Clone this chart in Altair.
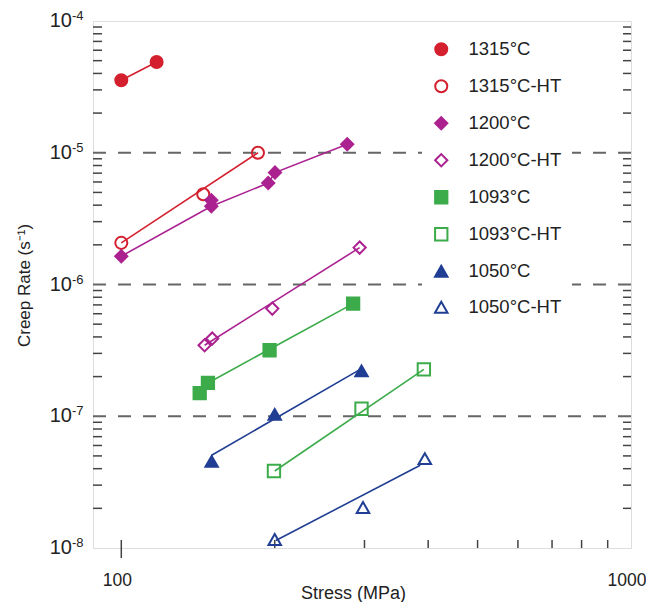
import altair as alt
import pandas as pd

# ---------------- data ----------------
SERIES = ['1315°C', '1315°C-HT', '1200°C', '1200°C-HT',
          '1093°C', '1093°C-HT', '1050°C', '1050°C-HT']
COLORS = ['#d4202e', '#d4202e', '#ab2190', '#ab2190',
          '#3cab4a', '#3cab4a', '#203e93', '#203e93']
FILLS = ['#d4202e', 'transparent', '#ab2190', 'transparent',
         '#3cab4a', 'transparent', '#203e93', 'transparent']
SHAPES = ['circle', 'circle', 'diamond', 'diamond',
          'square', 'square', 'triangle-up', 'triangle-up']
SIZES = [144, 156, 182, 280, 106, 132, 150, 132]

s1315_x = [100, 117.3]
s1315_y = [3.55e-5, 4.89e-5]
s1315ht_x = [100, 144.8, 185.4]
s1315ht_y = [2.07e-6, 4.84e-6, 1.0e-5]
s1200_x = [100, 150.2, 150.2, 194.2, 200.2, 277.5]
s1200_y = [1.64e-6, 3.93e-6, 4.36e-6, 5.89e-6, 7.07e-6, 1.16e-5]
s1200ht_x = [145.7, 150.8, 197.8, 293.5]
s1200ht_y = [3.46e-7, 3.89e-7, 6.56e-7, 1.905e-6]
s1093_x = [142.5, 147.9, 195.4, 285]
s1093_y = [1.50e-7, 1.79e-7, 3.17e-7, 7.16e-7]
s1093ht_x = [199.3, 296, 392.3]
s1093ht_y = [3.84e-8, 1.14e-7, 2.27e-7]
s1050_x = [150.4, 200, 296]
s1050_y = [4.55e-8, 1.035e-7, 2.21e-7]
s1050ht_x = [200, 298, 394]
s1050ht_y = [1.16e-8, 2.03e-8, 4.77e-8]

# fitted trend lines (vertices)
f1315_x = [100, 117.3]
f1315_y = [3.55e-5, 4.89e-5]
f1315ht_x = [100, 185.4]
f1315ht_y = [2.07e-6, 1.0e-5]
f1200_x = [100, 150.2, 194.2, 200.2, 277.5]
f1200_y = [1.64e-6, 3.93e-6, 5.89e-6, 7.07e-6, 1.16e-5]
f1200ht_x = [145.7, 293.5]
f1200ht_y = [3.46e-7, 1.905e-6]
f1093_x = [147.9, 285]
f1093_y = [1.79e-7, 7.16e-7]
f1093ht_x = [200, 392.3]
f1093ht_y = [3.84e-8, 2.27e-7]
f1050_x = [150.4, 296]
f1050_y = [5.06e-8, 2.30e-7]
f1050ht_x = [201, 386]
f1050ht_y = [1.14e-8, 4.25e-8]

GRID_Y = [1e-5, 1e-6, 1e-7]
Y_LABEL_VALUES = [1e-4, 1e-5, 1e-6, 1e-7, 1e-8]
Y_LABEL_BASE = ['10', '10', '10', '10', '10']
Y_LABEL_EXP = ['-4', '-5', '-6', '-7', '-8']
X_LABEL_VALUES = [100, 1000]
MINOR_MULT = [2, 3, 4, 5, 6, 7, 8, 9]
DECADES = [1e-8, 1e-7, 1e-6, 1e-5]
X_MINOR = [100, 200, 300, 400, 500, 600, 700, 800, 900]
X_MAJOR = [100]

# ---------------- tables ----------------
pts_sets = [(s1315_x, s1315_y), (s1315ht_x, s1315ht_y), (s1200_x, s1200_y),
            (s1200ht_x, s1200ht_y), (s1093_x, s1093_y), (s1093ht_x, s1093ht_y),
            (s1050_x, s1050_y), (s1050ht_x, s1050ht_y)]
fit_sets = [(f1315_x, f1315_y), (f1315ht_x, f1315ht_y), (f1200_x, f1200_y),
            (f1200ht_x, f1200ht_y), (f1093_x, f1093_y), (f1093ht_x, f1093ht_y),
            (f1050_x, f1050_y), (f1050ht_x, f1050ht_y)]

rows = []
for name, (xs_, ys_) in zip(SERIES, pts_sets):
    for a, b in zip(xs_, ys_):
        rows.append({'series': name, 'stress': a, 'rate': b})
pts = pd.DataFrame(rows)

frows = []
for name, col, (xs_, ys_) in zip(SERIES, COLORS, fit_sets):
    for i, (a, b) in enumerate(zip(xs_, ys_)):
        frows.append({'series': name, 'color': col, 'stress': a, 'rate': b, 'ord': i})
fits = pd.DataFrame(frows)

grid = pd.DataFrame({'rate': GRID_Y})
ylab = pd.DataFrame({'rate': Y_LABEL_VALUES, 'base': Y_LABEL_BASE, 'exp': Y_LABEL_EXP})
yminor = pd.DataFrame({'rate': [m * d for d in DECADES for m in MINOR_MULT]})
xminor = pd.DataFrame({'stress': X_MINOR})
xmajor = pd.DataFrame({'stress': X_MAJOR})

# ---------------- chart ----------------
W, H = 538, 527
FONT = "Liberation Sans, Arial, sans-serif"
TXT = '#222222'
TICK = '#444444'

xscale = alt.Scale(type='log', domain=[88, 1000], nice=False)
yscale = alt.Scale(type='log', domain=[1e-8, 1e-4], nice=False)

xaxis = alt.Axis(values=X_LABEL_VALUES, labelExpr="format(datum.value, 'd')",
                 ticks=False, domain=False, grid=False, labelFlush=False,
                 labelOverlap=False, labelPadding=23, labelOffset=-4.5,
                 labelFont=FONT, labelFontSize=17.5, labelColor=TXT,
                 title='Stress (MPa)', titleFont=FONT, titleFontSize=18,
                 titleFontWeight='normal', titleColor=TXT, titleX=260, titleY=50,
                 titleBaseline='alphabetic', titleAlign='center')
yaxis = alt.Axis(labels=False, ticks=False, domain=False, grid=False,
                 title='Creep Rate (s⁻¹)', titleFont=FONT, titleFontSize=17,
                 titleFontWeight='normal', titleColor=TXT, titleX=-69, titleY=264,
                 titleAngle=270, titleAlign='center', titleBaseline='middle')

X = alt.X('stress:Q', scale=xscale, axis=xaxis)
Y = alt.Y('rate:Q', scale=yscale, axis=yaxis)

gridlines = alt.Chart(grid).mark_rule(color='#666666', strokeWidth=2,
                                      strokeDash=[13, 12]).encode(y=Y)

left_ticks = alt.Chart(yminor).mark_rule(color=TICK, strokeWidth=1.5).encode(
    y=Y, x=alt.value(0), x2=alt.value(9))
right_ticks = alt.Chart(yminor).mark_rule(color=TICK, strokeWidth=1.5).encode(
    y=Y, x=alt.value(W - 8), x2=alt.value(W))
bottom_ticks = alt.Chart(xminor).mark_rule(color=TICK, strokeWidth=1.5).encode(
    x=X, y=alt.value(H - 8), y2=alt.value(H))
bottom_major = alt.Chart(xmajor).mark_rule(color=TICK, strokeWidth=1.5).encode(
    x=X, y=alt.value(H), y2=alt.value(H + 10))

ylab_base = alt.Chart(ylab).mark_text(align='right', baseline='middle', font=FONT,
                                      fontSize=20, color=TXT).encode(
    y=Y, x=alt.value(-21), text='base:N')
ylab_exp = alt.Chart(ylab).mark_text(align='left', baseline='alphabetic', font=FONT,
                                     fontSize=13, color=TXT, dy=-1).encode(
    y=Y, x=alt.value(-21), text='exp:N')

lines = alt.Chart(fits).mark_line(strokeWidth=1.6).encode(
    x=X, y=Y, detail='series:N', order='ord:Q',
    stroke=alt.Stroke('color:N', scale=None))

legend = alt.Legend(orient='none', legendX=329, legendY=9, title=None,
                    direction='vertical', fillColor='white', padding=10,
                    labelFont=FONT, labelFontSize=18.5, labelColor=TXT,
                    symbolStrokeWidth=2, rowPadding=16,
                    labelOffset=18, labelLimit=250)

points = alt.Chart(pts).mark_point(strokeWidth=2, opacity=1).encode(
    x=X, y=Y,
    shape=alt.Shape('series:N', scale=alt.Scale(domain=SERIES, range=SHAPES), legend=legend),
    stroke=alt.Stroke('series:N', scale=alt.Scale(domain=SERIES, range=COLORS), legend=legend),
    fill=alt.Fill('series:N', scale=alt.Scale(domain=SERIES, range=FILLS), legend=legend),
    size=alt.Size('series:N', scale=alt.Scale(domain=SERIES, range=SIZES), legend=legend),
)

chart = alt.layer(
    gridlines, left_ticks, right_ticks, bottom_ticks, bottom_major,
    ylab_base, ylab_exp, lines, points
).properties(
    width=W, height=H,
    padding={'left': 85, 'top': 13, 'right': 15, 'bottom': 54},
    autosize=alt.AutoSizeParams(type='none')
).configure_view(
    stroke='#333333', strokeWidth=1.5
).configure(background='white')

chart.save('out.html', embed_options={'renderer': 'svg', 'actions': False})
